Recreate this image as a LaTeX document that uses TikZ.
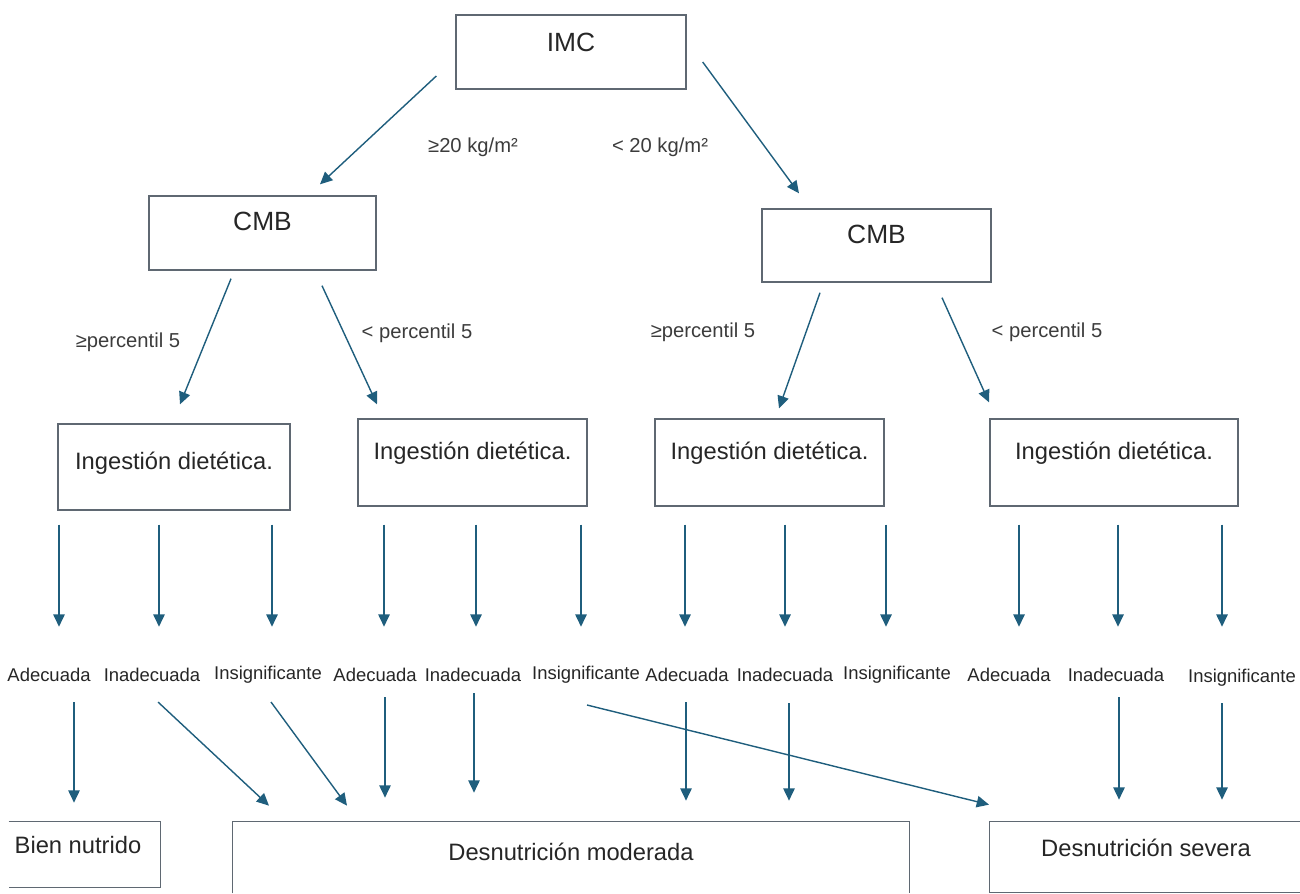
\documentclass[tikz,border=0pt]{standalone}
\usepackage{fontspec}
\setmainfont{Liberation Sans}
\usetikzlibrary{arrows.meta,calc}
\definecolor{arrowblue}{RGB}{31,94,125}
\definecolor{boxline}{RGB}{95,104,114}
\definecolor{labelgray}{RGB}{60,60,60}
\tikzset{
  box/.style={draw=boxline, line width=0.8pt, inner sep=0pt},
  openbox/.style={inner sep=0pt},
  headtxt/.style={font=\fontsize{15}{18}\selectfont, text=black!85},
  boxtxt/.style={font=\fontsize{13.5}{16}\selectfont, text=black!85},
  cond/.style={font=\fontsize{11.5}{14}\selectfont, text=labelgray},
  opt/.style={font=\fontsize{10.5}{12}\selectfont, text=black!85},
  arr/.style={draw=arrowblue, line width=0.8pt, -{Triangle[length=7pt,width=6.5pt]}},
}
\begin{document}
\begin{tikzpicture}[x=0.02cm, y=-0.02cm]
  \useasboundingbox (0,0) rectangle (1300,893);

  % IMC and CMB
  \node[box, minimum width=4.6cm, minimum height=1.48cm] (imc) at (571,52) {};
  \node[headtxt] (imc-t) at ($(imc.north)+(0,28)$) {IMC};
  \node[box, minimum width=4.54cm, minimum height=1.48cm] (cmbl) at (262.5,233) {};
  \node[headtxt] (cmbl-t) at ($(cmbl.north)+(0,26)$) {CMB};
  \node[box, minimum width=4.58cm, minimum height=1.46cm] (cmbr) at (876.5,245.5) {};
  \node[headtxt] (cmbr-t) at ($(cmbr.north)+(0,26)$) {CMB};

  \node[cond] (imc-hi) at (473,147) {≥20 kg/m²};
  \node[cond] (imc-lo) at (660,147) {< 20 kg/m²};
  \draw[arr] ($(imc.west)+(-19,24)$) -- ($(cmbl.north)+(57.5,-11)$);
  \draw[arr] ($(imc.east)+(16,10)$) -- ($(cmbr.north)+(-77.5,-15)$);

  % Ingestion dietetica
  \node[box, minimum width=4.64cm, minimum height=1.72cm] (ing1) at (174,467) {};
  \node[box, minimum width=4.58cm, minimum height=1.74cm] (ing2) at (472.5,462.5) {};
  \node[box, minimum width=4.58cm, minimum height=1.74cm] (ing3) at (769.5,462.5) {};
  \node[box, minimum width=4.96cm, minimum height=1.74cm] (ing4) at (1114,462.5) {};
  \node[boxtxt] (ing1-t) at ($(ing1.north)+(0,40)$) {Ingestión dietética.};
  \foreach \b in {ing2,ing3,ing4}
    \node[boxtxt] (\b-t) at ($(\b.north)+(0,35)$) {Ingestión dietética.};

  \node[cond] (pA) at (128,342) {≥percentil 5};
  \node[cond] (pB) at (417,333) {< percentil 5};
  \node[cond] (pC) at (703,332) {≥percentil 5};
  \node[cond] (pD) at (1047,332) {< percentil 5};
  \draw[arr] ($(cmbl.south)+(-31.5,8)$) -- ($(ing1.north)+(6,-19)$);
  \draw[arr] ($(cmbl.south)+(59.5,15)$) -- ($(ing2.north)+(-95.5,-14)$);
  \draw[arr] ($(cmbr.south)+(-56.5,10)$) -- ($(ing3.north)+(9.5,-10)$);
  \draw[arr] ($(cmbr.south)+(65.5,15)$) -- ($(ing4.north)+(-125,-16)$);

  \foreach \b/\dx/\dy in {ing1/-115/14, ing1/-15/14, ing1/98/14,
      ing2/-88.5/18, ing2/3.5/18, ing2/108.5/18,
      ing3/-84.5/18, ing3/15.5/18, ing3/116.5/18,
      ing4/-95/18, ing4/4/18, ing4/108/18}
    \draw[arr] ($(\b.south)+(\dx,\dy)$) -- ++(0,102);

  % intake levels
  \foreach \n/\x/\y/\t in {a1/49/675/Adecuada, a2/152/675/Inadecuada, a3/268/675/Insignificante,
      a4/375/675/Adecuada, a5/473/675/Inadecuada, a6/586/675/Insignificante,
      a7/687/675/Adecuada, a8/785/675/Inadecuada, a9/897/675/Insignificante,
      a10/1009/675/Adecuada, a11/1116/675/Inadecuada, a12/1242/678/Insignificante}
    \node[opt] (\n) at (\x,\y) {\t};

  % results
  \node[openbox, minimum width=3.02cm, minimum height=1.3cm] (bien) at (84.5,854.5) {};
  \draw[boxline, line width=0.8pt] (bien.north west) -- (bien.north east) -- (bien.south east) -- (bien.south west);
  \node[boxtxt] (bien-t) at ($(bien.north)+(-6.5,23)$) {Bien nutrido};
  \node[openbox, minimum width=13.52cm, minimum height=1.42cm] (mod) at (571,857.5) {};
  \draw[boxline, line width=0.8pt] (mod.south west) -- (mod.north west) -- (mod.north east) -- (mod.south east);
  \node[boxtxt] (mod-t) at ($(mod.north)+(0,30)$) {Desnutrición moderada};
  \node[openbox, minimum width=6.2cm, minimum height=1.4cm] (sev) at (1145,857) {};
  \draw[boxline, line width=0.8pt] (sev.north east) -- (sev.north west) -- (sev.south west) -- (sev.south east);
  \node[boxtxt] (sev-t) at ($(sev.north)+(1,26)$) {Desnutrición severa};

  \draw[arr] ($(a1.center)+(25,27)$) -- ($(bien.north)+(-10.5,-19)$);
  \draw[arr] ($(a2.center)+(6,27)$) -- ($(mod.north)+(-302,-16)$);
  \draw[arr] ($(a3.center)+(3,27)$) -- ($(mod.north)+(-224,-16)$);
  \draw[arr] ($(a4.center)+(10,22)$) -- ($(mod.north)+(-186,-24)$);
  \draw[arr] ($(a5.center)+(1,18)$) -- ($(mod.north)+(-97,-29)$);
  \draw[arr] ($(a6.center)+(1,30)$) -- ($(sev.north)+(-156,-17)$);
  \draw[arr] ($(a7.center)+(-1,27)$) -- ($(mod.north)+(115,-21)$);
  \draw[arr] ($(a8.center)+(4,28)$) -- ($(mod.north)+(218,-21)$);
  \draw[arr] ($(a11.center)+(3,22)$) -- ($(sev.north)+(-26,-22)$);
  \draw[arr] ($(a12.center)+(-20,25)$) -- ($(sev.north)+(77,-22)$);
\end{tikzpicture}
\end{document}
